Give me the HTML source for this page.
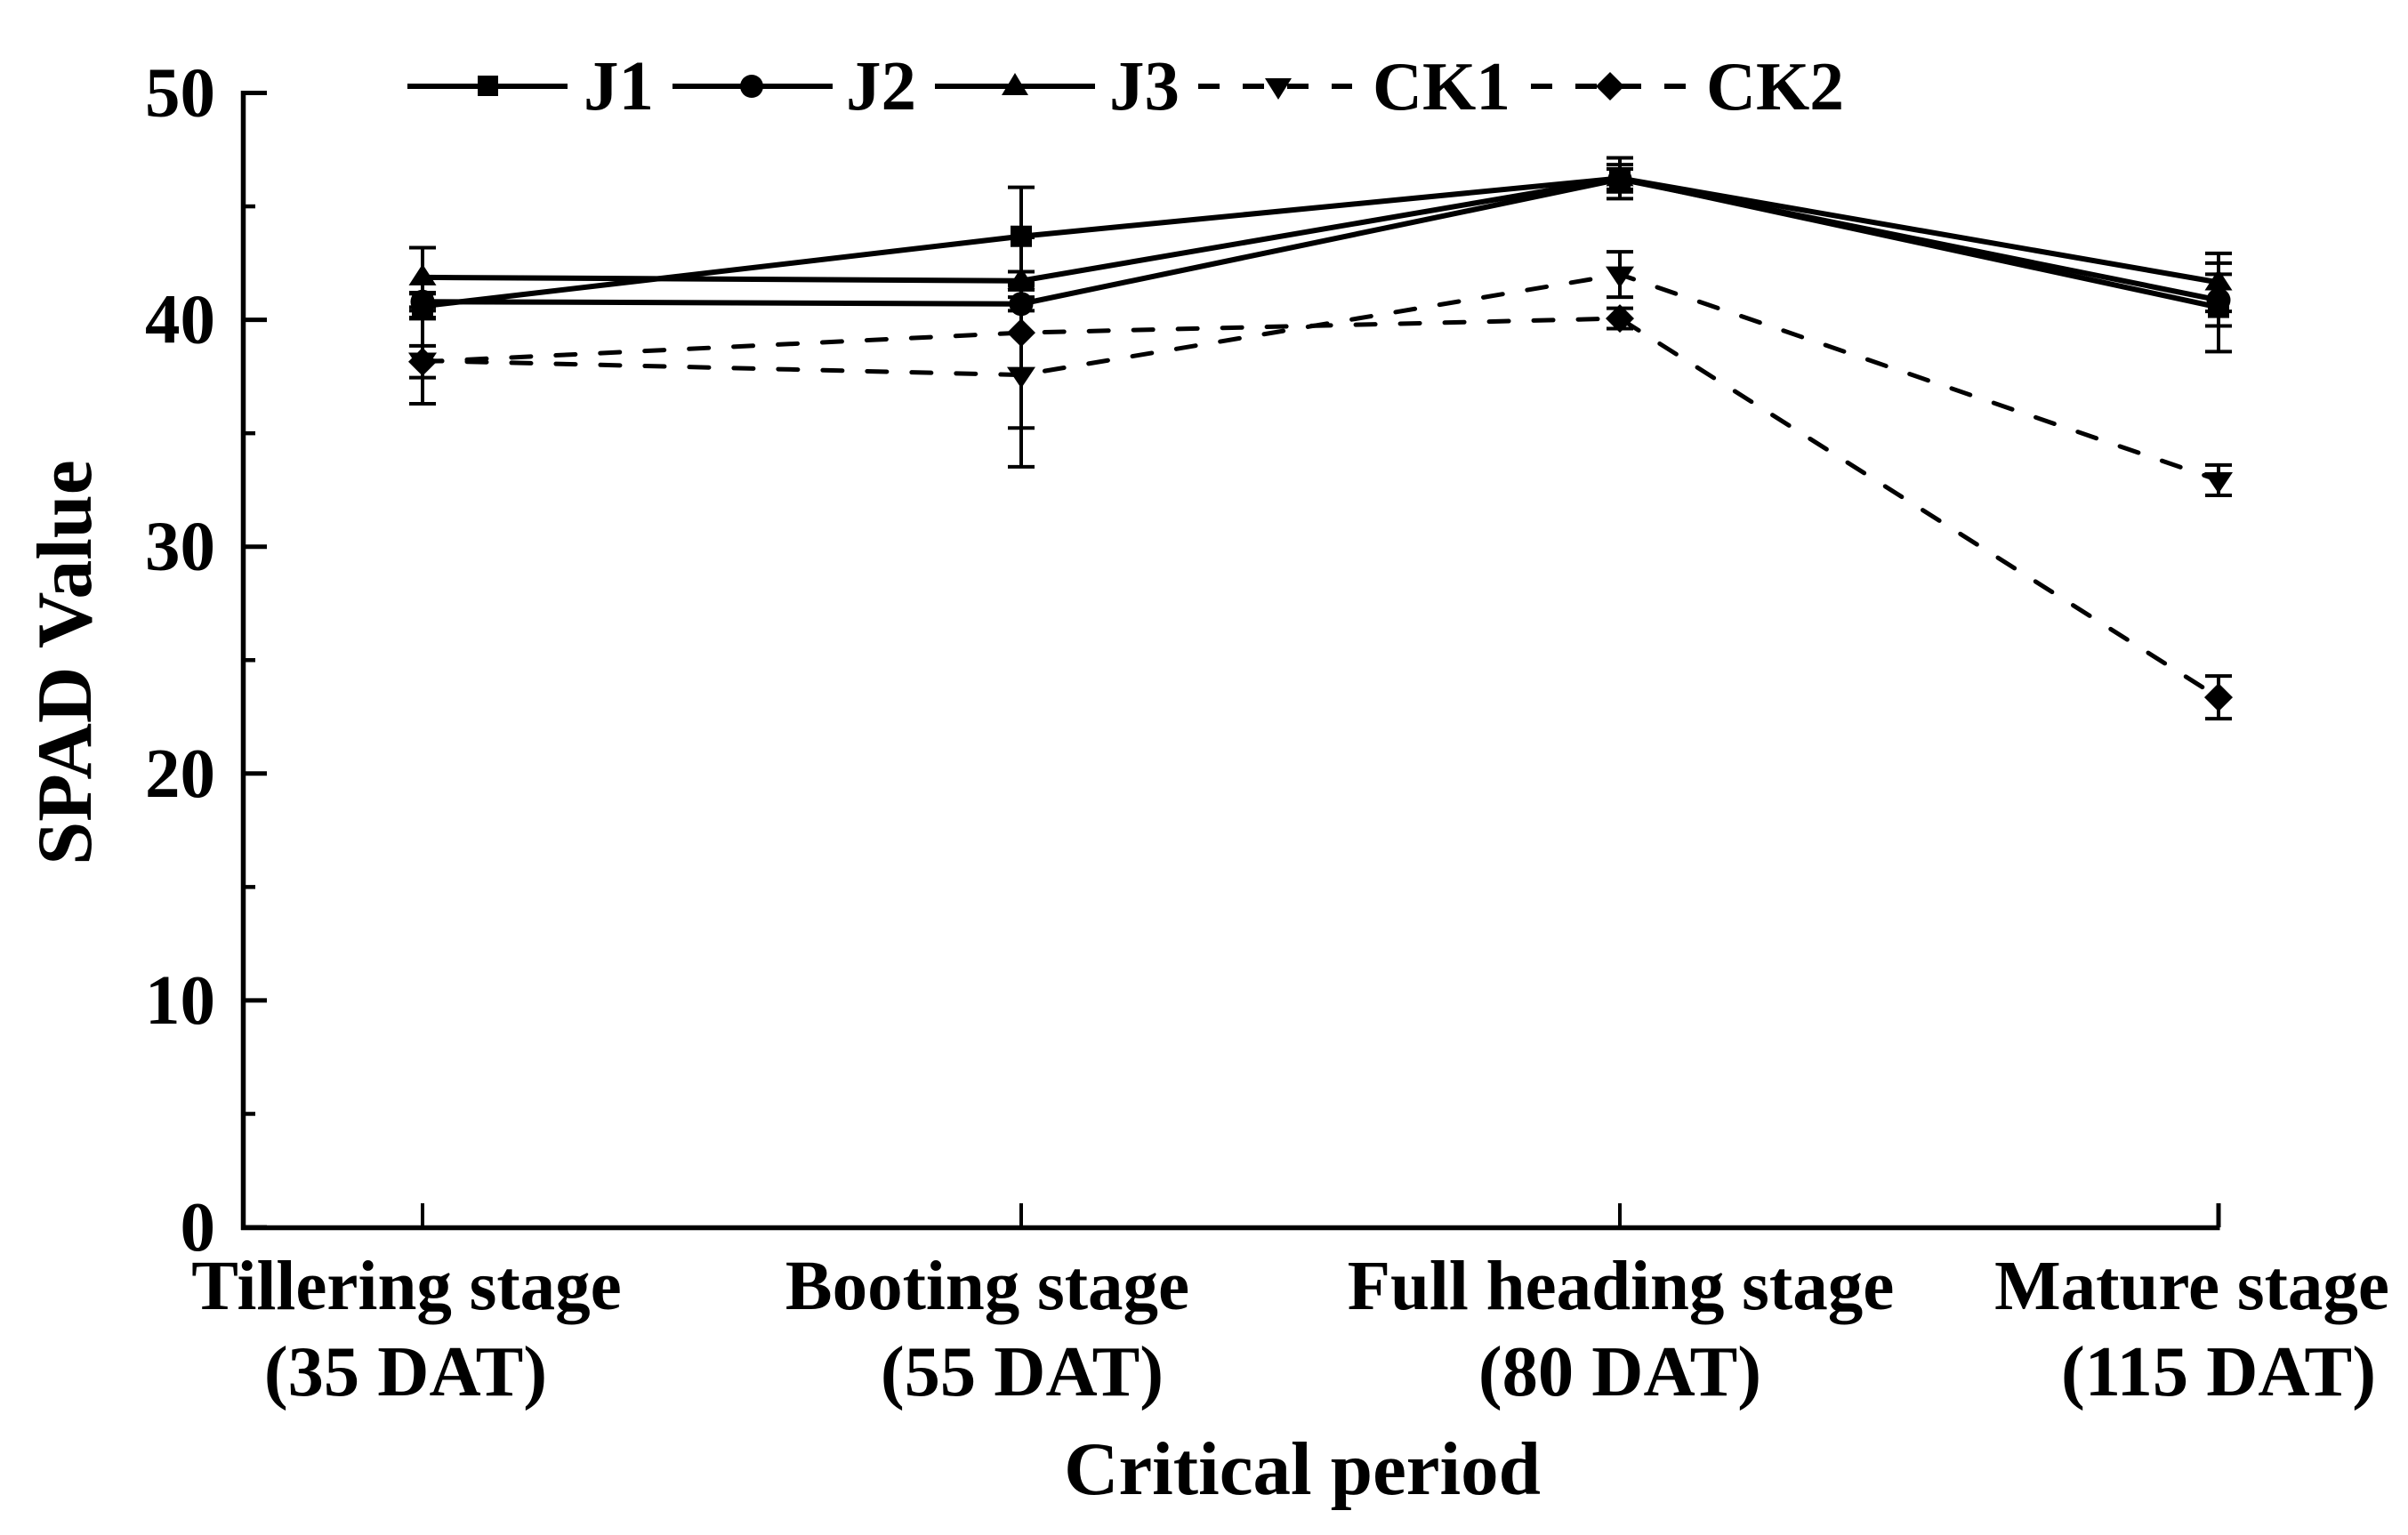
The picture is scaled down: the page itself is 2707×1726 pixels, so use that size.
<!DOCTYPE html>
<html lang="en">
<head>
<meta charset="utf-8">
<title>SPAD Value by critical period</title>
<style>
html,body{margin:0;padding:0;background:#fff;}
svg{display:block;}
text{font-family:"Liberation Serif",serif;font-weight:bold;fill:#000;}
</style>
</head>
<body>
<svg id="chart" xmlns="http://www.w3.org/2000/svg" width="2707" height="1726" viewBox="0 0 2707 1726">
  <rect x="0" y="0" width="2707" height="1726" fill="#fff"/>
  <g id="axes"></g>
  <g id="series"></g>

  <g stroke="#000">
    <g>
      <line x1="458" y1="97" x2="638" y2="97" stroke-width="6"/>
      <rect x="537" y="85" width="23" height="23" fill="#000" stroke="none"/>
      <text x="656" y="123" font-size="79" stroke="none">J1</text>
    </g>
    <g>
      <line x1="756" y1="97" x2="936" y2="97" stroke-width="6"/>
      <circle cx="845" cy="97" r="13" fill="#000" stroke="none"/>
      <text x="951" y="123" font-size="79" stroke="none">J2</text>
    </g>
    <g>
      <line x1="1051" y1="97" x2="1231" y2="97" stroke-width="6"/>
      <path d="M1141 82L1156 107H1126Z" fill="#000" stroke="none"/>
      <text x="1247" y="123" font-size="79" stroke="none">J3</text>
    </g>
    <g>
      <line x1="1347" y1="97" x2="1520" y2="97" stroke-width="6" stroke-dasharray="24 26"/>
      <path d="M1422 88H1452L1437 112Z" fill="#000" stroke="none"/>
      <text x="1543" y="123" font-size="77.5" stroke="none">CK1</text>
    </g>
    <g>
      <line x1="1721" y1="97" x2="1896" y2="97" stroke-width="6" stroke-dasharray="24 26"/>
      <path d="M1810 81L1826 97L1810 113L1794 97Z" fill="#000" stroke="none"/>
      <text x="1918" y="123" font-size="77.5" stroke="none">CK2</text>
    </g>
  </g>

  <text x="1464" y="1680" font-size="85" text-anchor="middle">Critical period</text>
  <text transform="translate(102 745) rotate(-90)" x="0" y="0" font-size="88" text-anchor="middle">SPAD Value</text>
</svg>

<script>
const stageLabels = ["Tillering stage", "Booting stage", "Full heading stage", "Mature stage"];
const dayLabels = ["(35 DAT)", "(55 DAT)", "(80 DAT)", "(115 DAT)"];
const majorTicks = [0, 10, 20, 30, 40, 50];
const minorTicks = [5, 15, 25, 35, 45];

const j1Values = [40.6, 43.68, 46.24, 40.55];
const j1Errors = [0.55, 2.16, 0.6, 1.95];
const j2Values = [40.8, 40.7, 46.2, 40.87];
const j2Errors = [0.4, 0.3, 0.45, 1.14];
const j3Values = [41.87, 41.72, 46.24, 41.65];
const j3Errors = [1.31, 0.4, 0.9, 1.28];
const ck1Values = [38.2, 37.57, 42.0, 32.93];
const ck1Errors = [1.9, 4.05, 1.0, 0.67];
const ck2Values = [38.15, 39.43, 40.06, 23.36];
const ck2Errors = [0.7, 4.2, 0.45, 0.94];

const NS = "http://www.w3.org/2000/svg";
const axes = document.getElementById("axes");
const layer = document.getElementById("series");

function xScale(i) { return 475 + i * 673; }
function yScale(v) { return 1380 - v * 25.51; }

function make(parent, tag, attrs, text) {
  const el = document.createElementNS(NS, tag);
  for (const key in attrs) el.setAttribute(key, attrs[key]);
  if (text !== undefined) el.textContent = text;
  parent.appendChild(el);
  return el;
}

/* axis lines */
const yAxisLine = make(axes, "line", {x1: 273.5, y1: 102, x2: 273.5, y2: 1383, stroke: "#000", "stroke-width": 5.5});


const xAxisLine = make(axes, "line", {x1: 271, y1: 1380.5, x2: 2495.5, y2: 1380.5, stroke: "#000", "stroke-width": 5.5});



/* y ticks */
majorTicks.forEach(function (v) {
  const y = yScale(v);
  const tick = make(axes, "line", {x1: 273, y1: y, x2: 300, y2: y, stroke: "#000", "stroke-width": 5});
  
  
  const label = make(axes, "text", {x: 242, y: y + 26, "font-size": 79, "text-anchor": "end"}, String(v));
  
  
});
minorTicks.forEach(function (v) {
  const y = yScale(v);
  const tick = make(axes, "line", {x1: 273, y1: y, x2: 287, y2: y, stroke: "#000", "stroke-width": 4.5});
  
  
});

/* x ticks and labels */
const stageOffsets = [-18, -38, 1, -30];
stageLabels.forEach(function (name, i) {
  const x = xScale(i);
  const tick = make(axes, "line", {x1: x, y1: 1353, x2: x, y2: 1380, stroke: "#000", "stroke-width": i === 3 ? 5 : 4});
  
  
  const stage = make(axes, "text", {x: x + stageOffsets[i], y: 1472, "font-size": 79, "text-anchor": "middle"}, name);
  
  
  const day = make(axes, "text", {x: x + (i === 0 ? -19 : i === 1 ? 1 : 0), y: 1569, "font-size": 80.5, "text-anchor": "middle"}, dayLabels[i]);
  
  
});

/* markers */
function drawMarker(g, kind, x, y) {
  if (kind === "square") return make(g, "rect", {x: x - 12, y: y - 12, width: 24, height: 24, fill: "#000"});
  if (kind === "circle") return make(g, "circle", {cx: x, cy: y, r: 13.5, fill: "#000"});
  if (kind === "up") return make(g, "path", {d: "M" + x + " " + (y - 15) + "L" + (x + 15.5) + " " + (y + 9) + "H" + (x - 15.5) + "Z", fill: "#000"});
  if (kind === "down") return make(g, "path", {d: "M" + (x - 16) + " " + (y - 9) + "H" + (x + 16) + "L" + x + " " + (y + 15) + "Z", fill: "#000"});
  return make(g, "path", {d: "M" + x + " " + (y - 16) + "L" + (x + 16) + " " + y + "L" + x + " " + (y + 16) + "L" + (x - 16) + " " + y + "Z", fill: "#000"});
}

function drawSeries(name, values, errors, kind, dashed) {
  const g = make(layer, "g", {});
  
  

  const pts = values.map(function (v, i) { return xScale(i) + "," + yScale(v); }).join(" ");
  const lineAttrs = {points: pts, fill: "none", stroke: "#000", "stroke-width": dashed ? 5 : 6};
  if (dashed) {
    lineAttrs["stroke-dasharray"] = "22 28";
    lineAttrs["stroke-linecap"] = "round";
  }
  const line = make(g, "polyline", lineAttrs);
  
  

  values.forEach(function (v, i) {
    const x = xScale(i);
    const top = yScale(v + errors[i]);
    const bottom = yScale(v - errors[i]);
    const bar = make(g, "path", {
      d: "M" + x + " " + top + "V" + bottom + "M" + (x - 15) + " " + top + "H" + (x + 15) + "M" + (x - 15) + " " + bottom + "H" + (x + 15),
      fill: "none", stroke: "#000", "stroke-width": 4
    });
    
    
    const marker = drawMarker(g, kind, x, yScale(v));
    
    
  });
}

drawSeries("j1", j1Values, j1Errors, "square", false);
drawSeries("j2", j2Values, j2Errors, "circle", false);
drawSeries("j3", j3Values, j3Errors, "up", false);
drawSeries("ck1", ck1Values, ck1Errors, "down", true);
drawSeries("ck2", ck2Values, ck2Errors, "diamond", true);
</script>
</body>
</html>
